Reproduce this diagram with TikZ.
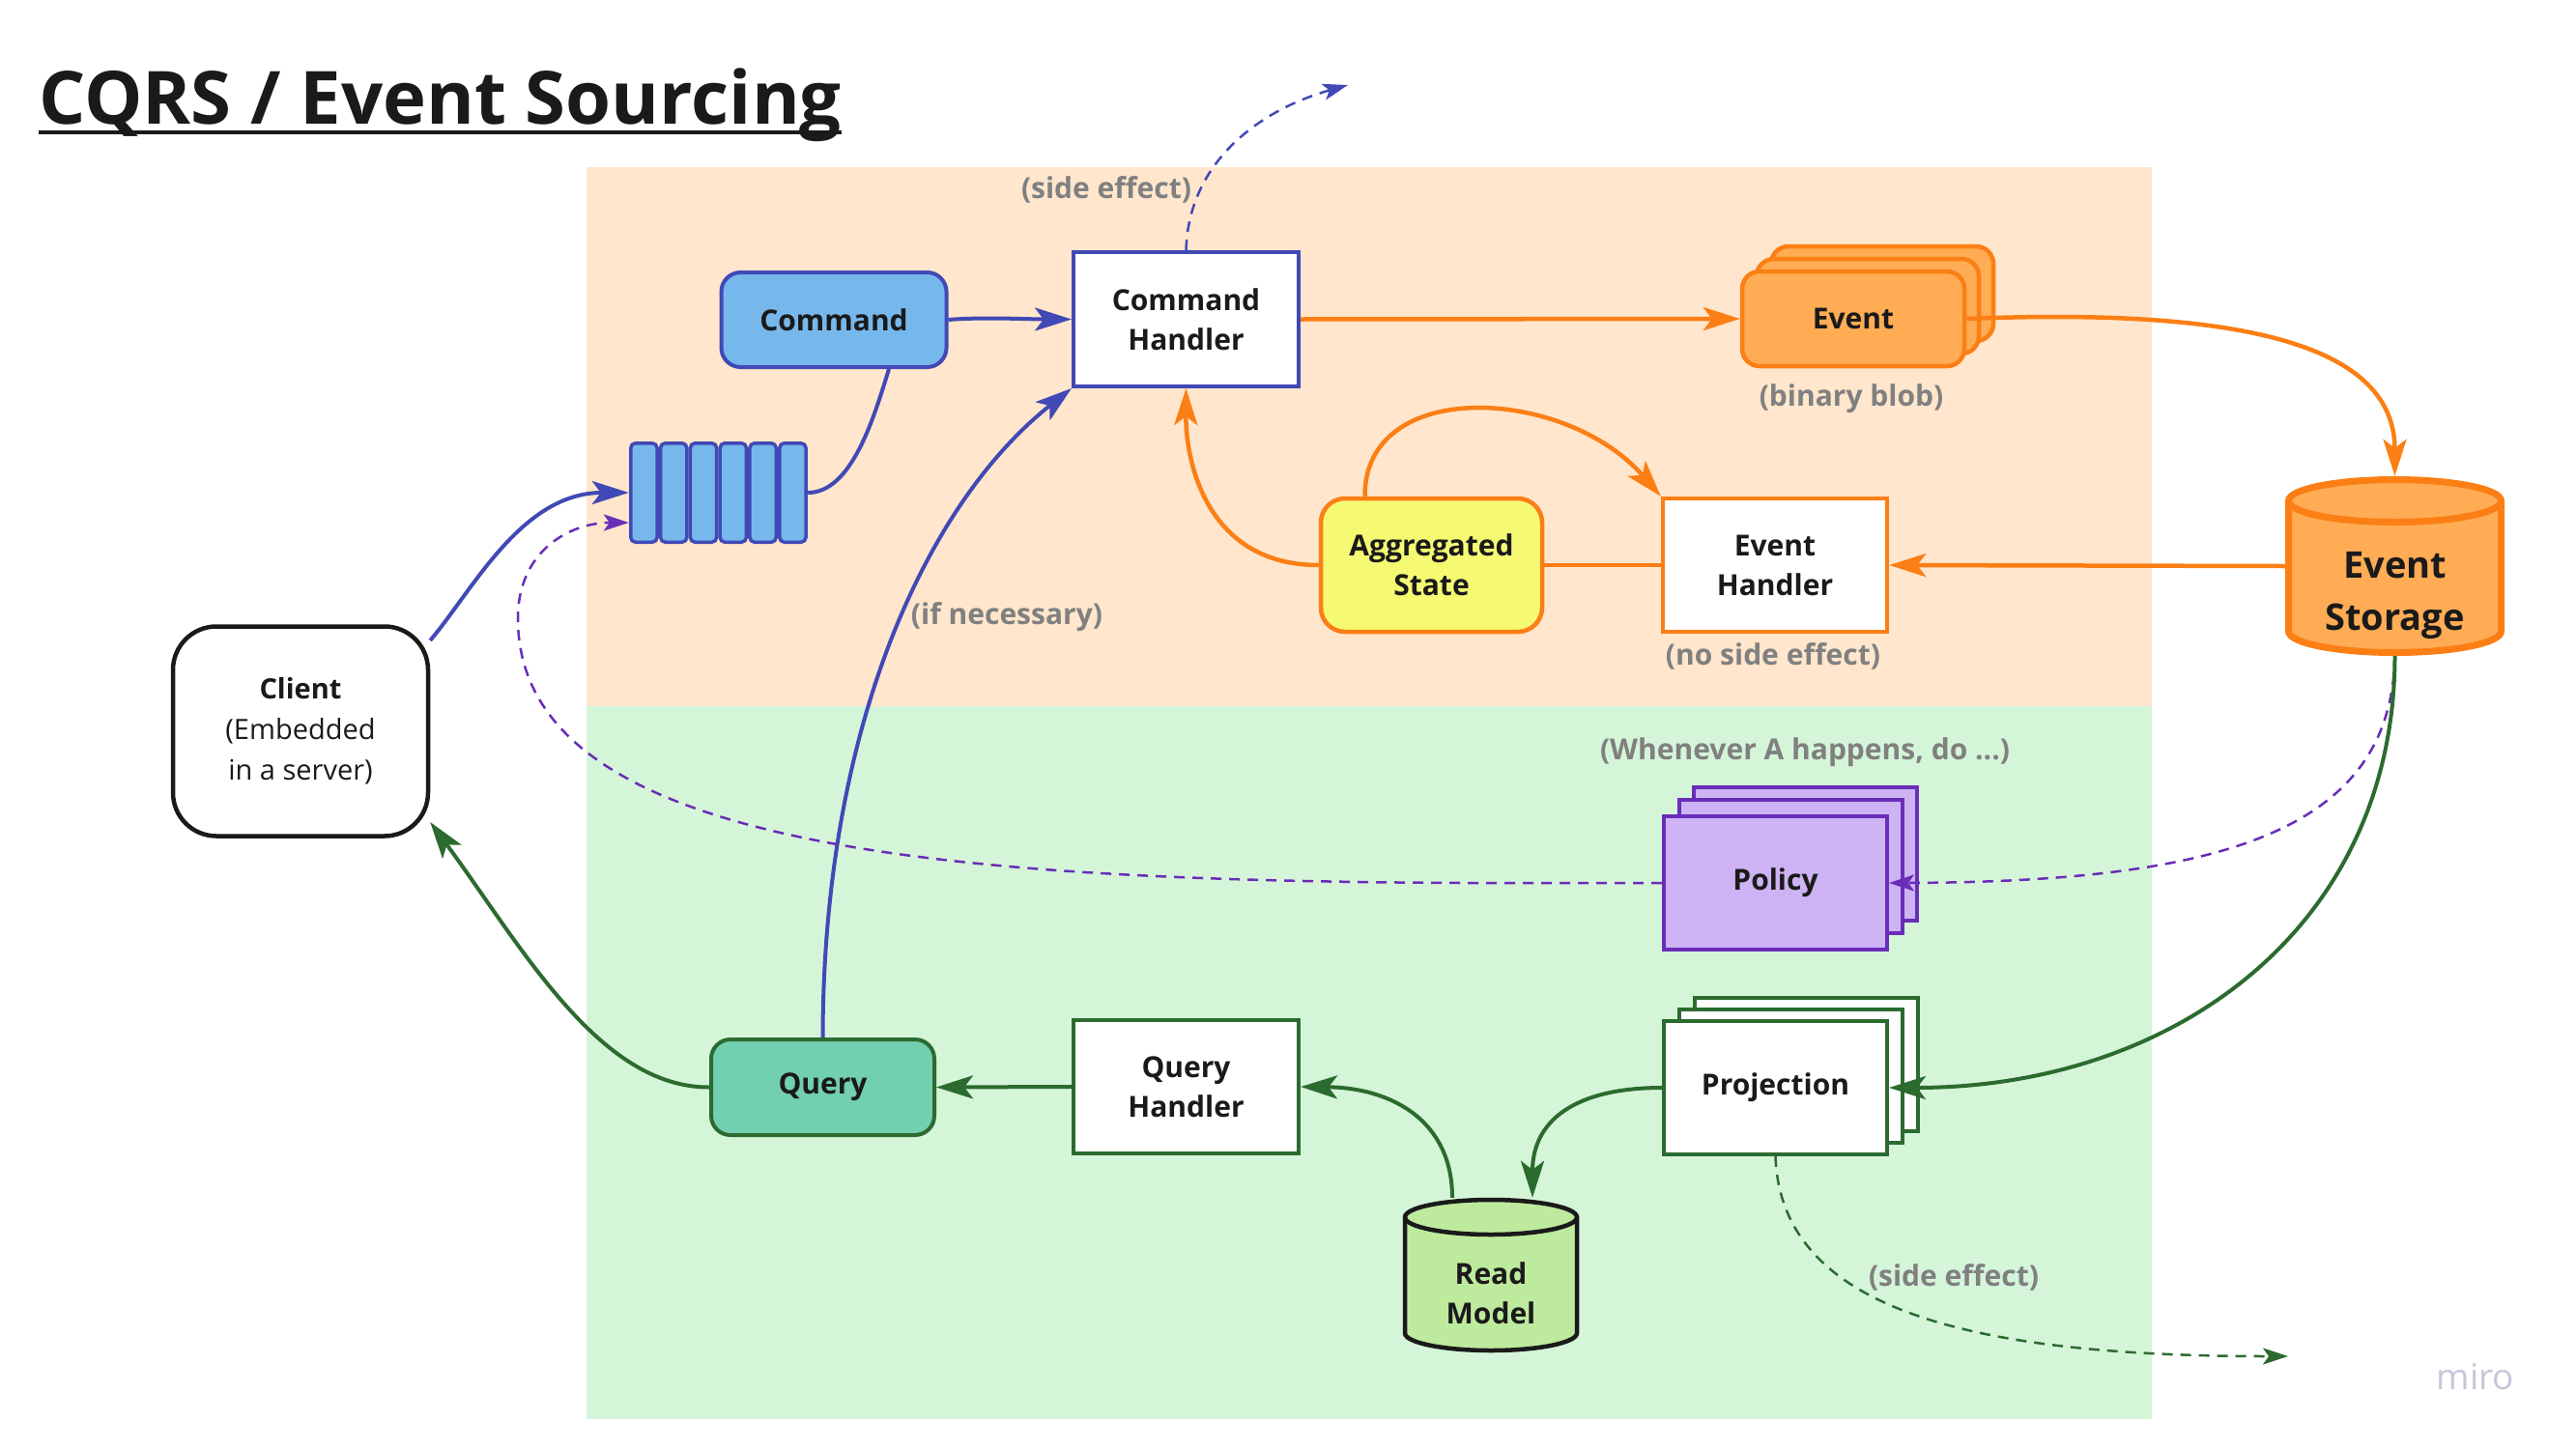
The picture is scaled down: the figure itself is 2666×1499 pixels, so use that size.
\documentclass[tikz,border=0pt]{standalone}
\usepackage{fontspec}
\setmainfont{Open Sans}
\usetikzlibrary{arrows.meta}
\definecolor{bgO}{HTML}{FFE6CC}
\definecolor{bgG}{HTML}{D5F5D9}
\definecolor{indg}{HTML}{4149B6}
\definecolor{cmdF}{HTML}{77B8EC}
\definecolor{orgL}{HTML}{FB7F15}
\definecolor{orgF}{HTML}{FFAC55}
\definecolor{yelF}{HTML}{F6FA73}
\definecolor{purL}{HTML}{6A2DB8}
\definecolor{purF}{HTML}{CDB3F4}
\definecolor{grnL}{HTML}{2C6B2F}
\definecolor{qF}{HTML}{72CFB1}
\definecolor{rmF}{HTML}{BEEA9E}
\definecolor{txt}{HTML}{1A1A1A}
\definecolor{gryT}{HTML}{808080}
\definecolor{miroC}{HTML}{C9C5D9}
\tikzset{
  box/.style={draw, line width=4pt, inner sep=0pt, align=center},
  lbl/.style={text=gryT, inner sep=0pt, font=\fontsize{30}{36}\selectfont\bfseries},
  arw/.style={-{Stealth[length=38pt,width=24pt,inset=9pt]}},
  darw/.style={-{Stealth[length=26pt,width=17pt,inset=6pt]}, dash pattern=on 11pt off 8pt, line width=2.5pt},
  bluel/.style={draw=indg, line width=4pt},
  orgl/.style={draw=orgL, line width=4.5pt},
  grnl/.style={draw=grnL, line width=4pt},
  evcard/.style={box, draw=orgL, fill=orgF, line width=4.5pt, rounded corners=18pt, minimum width=230pt, minimum height=98pt},
  polcard/.style={box, draw=purL, fill=purF, minimum width=231pt, minimum height=138pt},
  projcard/.style={box, draw=grnL, fill=white, minimum width=231pt, minimum height=138pt},
}
\begin{document}
\begin{tikzpicture}[x=1pt,y=1pt,font=\fontsize{30}{41}\selectfont\bfseries,text=txt]
\useasboundingbox (0,0) rectangle (2666,-1499);
% backgrounds
\fill[bgO] (607,-173) rectangle (2227,-731);
\fill[bgG] (607,-731) rectangle (2227,-1469);
% title
\node[anchor=base west, inner sep=0pt, font=\fontsize{76}{90}\selectfont\bfseries] (title) at (40,-128) {CQRS / Event Sourcing};
\draw[line width=4.5pt, txt] ([yshift=-9pt]title.base west) -- ([yshift=-9pt]title.base east);
% command side
\node[box, draw=indg, fill=cmdF, rounded corners=20pt, minimum width=233pt, minimum height=98pt] (cmd) at (863,-331) {Command};
\node[box, draw=indg, fill=white, minimum width=233pt, minimum height=139pt] (ch) at (1227.5,-330.5) {Command\\Handler};
\node[inner sep=0pt, minimum width=185pt, minimum height=106pt] (queue) at (743.5,-510) {};
\foreach \i in {0,...,5}
  \draw[draw=indg, fill=cmdF, line width=3.5pt, rounded corners=5pt] (652.75+\i*30.8,-458.75) rectangle ++(27.3,-102.5);
% event stack
\node[evcard] (ev3) at (1948,-304) {};
\node[evcard] (ev2) at (1933,-317) {};
\node[evcard] (ev) at (1918,-330) {Event};
\node[box, draw=orgL, fill=yelF, line width=4.5pt, rounded corners=25pt, minimum width=229pt, minimum height=138pt] (agg) at (1481.5,-585) {Aggregated\\State};
\node[box, draw=orgL, fill=white, line width=4.5pt, minimum width=232pt, minimum height=138pt] (eh) at (1837,-585) {Event\\Handler};
% event storage cylinder
\filldraw[fill=orgF, draw=orgL, line width=7pt] (2368.5,-518.5) -- (2368.5,-653.5) arc[start angle=180,end angle=360,x radius=110,y radius=22] -- (2588.5,-518.5) arc[start angle=0,end angle=180,x radius=110,y radius=22] -- cycle;
\draw[orgL, line width=7pt] (2368.5,-518.5) arc[start angle=180,end angle=360,x radius=110,y radius=22];
\node[inner sep=0pt, minimum width=227pt, minimum height=186pt] (es) at (2478.5,-586) {};
\node[inner sep=0pt, align=center, font=\fontsize{38}{54}\selectfont\bfseries] (est) at (2478.5,-616) {Event\\Storage};
% client
\node[box, draw=txt, fill=white, line width=4.5pt, rounded corners=45pt, minimum width=264pt, minimum height=217pt, font=\fontsize{29}{42}\selectfont\mdseries] (client) at (311,-757) {{\bfseries Client}\\(Embedded\\in a server)};
% policy stack
\node[polcard] (pol3) at (1868.5,-884) {};
\node[polcard] (pol2) at (1853.5,-897) {};
\node[polcard] (pol) at (1837.5,-914) {Policy};
% projection stack
\node[projcard] (proj3) at (1869,-1102) {};
\node[projcard] (proj2) at (1853.5,-1114) {};
\node[projcard] (proj) at (1837.5,-1126) {Projection};
% query side
\node[box, draw=grnL, fill=white, minimum width=233pt, minimum height=138pt] (qh) at (1227.5,-1125) {Query\\Handler};
\node[box, draw=grnL, fill=qF, rounded corners=20pt, minimum width=231pt, minimum height=99pt] (q) at (851.5,-1125.5) {Query};
% read model cylinder
\filldraw[fill=rmF, draw=txt, line width=4.5pt] (1454,-1260) -- (1454,-1380) arc[start angle=180,end angle=360,x radius=89,y radius=18] -- (1632,-1260) arc[start angle=0,end angle=180,x radius=89,y radius=18] -- cycle;
\draw[txt, line width=4.5pt] (1454,-1260) arc[start angle=180,end angle=360,x radius=89,y radius=18];
\node[inner sep=0pt, minimum width=182pt, minimum height=160pt] (rm) at (1543,-1320) {};
\node[inner sep=0pt, align=center] (rmt) at (1543,-1338.5) {Read\\Model};
% free ends
\coordinate (se1) at (1395,-88);
\coordinate (se2) at (2368,-1404);
% connectors
\draw[bluel, arw] (cmd.east) .. controls +(35,3) and +(-45,0) .. (ch.west);
\draw[bluel] (queue.east) .. controls (882,-510) and (905,-430) .. ([xshift=57pt]cmd.south);
\draw[bluel, arw] (client.35) .. controls (490,-610) and (540,-510) .. (queue.west);
\draw[bluel, arw] (q.north) .. controls (852,-750) and (960,-520) .. (ch.south west);
\draw[orgl, arw] (ch.east) -- (ev.west);
\draw[orgl, arw] (ev.east) .. controls (2330,-318) and (2478.5,-360) .. (es.north);
\draw[orgl, arw] (es.west) -- (eh.east);
\draw[orgl] (eh.west) -- (agg.east);
\draw[orgl, arw] ([xshift=-69pt]agg.north) .. controls (1412,-390) and (1620,-400) .. (eh.north west);
\draw[orgl, arw] (agg.west) .. controls (1250,-585) and (1227,-480) .. (ch.south);
\draw[indg, darw] (ch.north) .. controls (1230,-170) and (1300,-115) .. (se1);
\draw[purL, darw] (es.south) .. controls (2475,-860) and (2300,-913) .. (pol.east);
\draw[purL, darw] (pol.west) .. controls (1100,-916) and (536,-910) .. (536,-640) .. controls (536,-570) and (590,-541) .. ([yshift=-31pt]queue.west);
\draw[grnl, arw] (es.south) .. controls (2478,-960) and (2250,-1126) .. (proj.east);
\draw[grnl, arw] (proj.west) .. controls (1630,-1126) and (1586,-1160) .. ([xshift=43pt]rm.north);
\draw[grnl, arw] ([xshift=-40pt]rm.north) .. controls (1503,-1160) and (1440,-1126) .. (qh.east);
\draw[grnl, arw] (qh.west) -- (q.east);
\draw[grnl, arw] (q.west) .. controls (620,-1126) and (540,-980) .. (client.-35);
\draw[grnL, darw] (proj.south) .. controls (1843,-1360) and (2050,-1404) .. (se2);
% labels
\node[lbl] (l1) at (1145,-196) {(side effect)};
\node[lbl] (l2) at (1916,-413) {(binary blob)};
\node[lbl] (l3) at (1835,-679) {(no side effect)};
\node[lbl] (l4) at (1042,-639) {(if necessary)};
\node[lbl] (l5) at (1868,-779) {(Whenever A happens, do ...)};
\node[lbl] (l6) at (2022,-1322) {(side effect)};
\node[text=miroC, inner sep=0pt, font=\fontsize{37}{40}\selectfont\mdseries] (miro) at (2562,-1425) {miro};
\end{tikzpicture}
\end{document}
